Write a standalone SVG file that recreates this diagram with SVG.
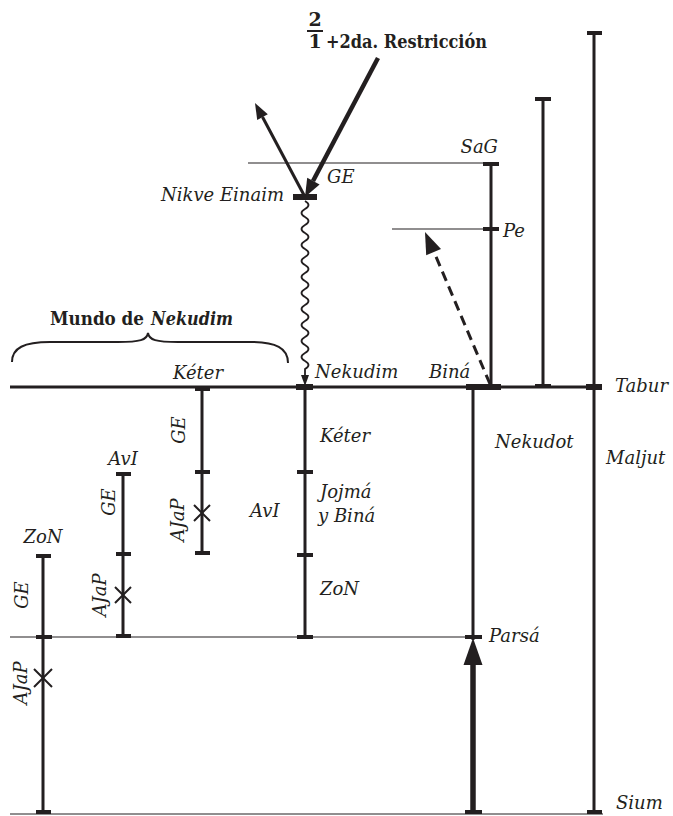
<svg xmlns="http://www.w3.org/2000/svg" width="673" height="816" viewBox="0 0 673 816">
<style>
.bg{fill:#fff}
.ln{stroke:#231f20;stroke-width:3;fill:none}
.thin{stroke:#231f20;stroke-width:1.2;fill:none}
.cap{stroke:#231f20;stroke-width:4;fill:none}
.capb{stroke:#231f20;stroke-width:6;fill:none}
.x{stroke:#231f20;stroke-width:2;fill:none}
.ah{fill:#231f20;stroke:none}
text{font-family:"DejaVu Serif","Liberation Serif",serif;fill:#231f20}
.it{font-style:italic;font-size:18px}
.bd{font-weight:bold;font-size:19px}
</style>
<rect class="bg" x="0" y="0" width="673" height="816"/>

<g id="connectors">
  <line class="ln" x1="10" y1="387" x2="602" y2="387"/>
  <line class="thin" x1="10" y1="637" x2="481" y2="637"/>
  <line class="thin" x1="10" y1="814" x2="603" y2="814"/>
  <line class="thin" x1="248" y1="163" x2="491" y2="163"/>
  <line class="thin" x1="392" y1="229" x2="491" y2="229"/>

  <line stroke="#231f20" stroke-width="4.5" x1="378" y1="58" x2="313" y2="181"/>
  <polygon class="ah" points="305,197 319.6,184.4 307.2,177.8"/>
  <line stroke="#231f20" stroke-width="3" x1="305" y1="197" x2="262.5" y2="117"/>
  <polygon class="ah" points="255,103 267.8,114.3 257.2,119.9"/>

  <path stroke="#231f20" stroke-width="1.8" fill="none" d="M305,201 q7,4 0,8 t0,8 t0,8 t0,8 t0,8 t0,8 t0,8 t0,8 t0,8 t0,8 t0,8 t0,8 t0,8 t0,8 t0,8 t0,8 t0,8 t0,8 t0,8 t0,8 t0,8 L305,378"/>
  <polygon class="ah" points="305,386 301,375 309,375"/>

  <line stroke="#231f20" stroke-width="3" stroke-dasharray="10,6" x1="490" y1="384" x2="434" y2="252"/>
  <polygon class="ah" points="425,232 441,249.1 426.2,255.3"/>

  <line stroke="#231f20" stroke-width="5.5" x1="473" y1="662" x2="473" y2="812"/>
  <polygon class="ah" points="473,638 463.5,665 482.5,665"/>
</g>

<g id="col-far-right">
  <line class="ln" x1="594" y1="31" x2="594" y2="812"/>
  <line class="cap" x1="587" y1="33" x2="602" y2="33"/>
  <line class="capb" x1="586" y1="387" x2="602" y2="387"/>
  <line class="cap" x1="587" y1="812" x2="602" y2="812"/>
</g>

<g id="col-543">
  <line class="ln" x1="543" y1="97" x2="543" y2="387"/>
  <line class="cap" x1="535" y1="99" x2="551" y2="99"/>
  <line class="cap" x1="535" y1="386" x2="551" y2="386"/>
</g>

<g id="col-sag">
  <line class="ln" x1="491" y1="163" x2="491" y2="387"/>
  <line class="cap" x1="483" y1="164" x2="499" y2="164"/>
  <line class="cap" x1="483" y1="229" x2="499" y2="229"/>
</g>

<g id="col-bina">
  <line class="ln" x1="473" y1="387" x2="473" y2="640"/>
  <line class="capb" x1="466" y1="387" x2="501" y2="387"/>
  <line class="cap" x1="465" y1="637" x2="482" y2="637"/>
  <line class="cap" x1="465" y1="812" x2="482" y2="812"/>
</g>

<g id="col-nekudim">
  <line class="ln" x1="305" y1="387" x2="305" y2="637"/>
  <line class="capb" x1="296" y1="387" x2="313" y2="387"/>
  <line class="cap" x1="297" y1="472" x2="313" y2="472"/>
  <line class="cap" x1="297" y1="555" x2="313" y2="555"/>
  <line class="cap" x1="297" y1="637" x2="313" y2="637"/>
  <line class="capb" x1="293" y1="197" x2="317" y2="197"/>
</g>

<g id="col-keter">
  <line class="ln" x1="202" y1="387" x2="202" y2="554"/>
  <line class="cap" x1="195" y1="389" x2="210" y2="389"/>
  <line class="cap" x1="195" y1="472" x2="210" y2="472"/>
  <line class="cap" x1="195" y1="553" x2="210" y2="553"/>
  <path class="x" d="M194,505 L210,521 M210,505 L194,521"/>
</g>

<g id="col-avi">
  <line class="ln" x1="123" y1="473" x2="123" y2="637"/>
  <line class="cap" x1="116" y1="474" x2="131" y2="474"/>
  <line class="cap" x1="116" y1="554" x2="131" y2="554"/>
  <line class="cap" x1="116" y1="636" x2="131" y2="636"/>
  <path class="x" d="M115,587 L131,603 M131,587 L115,603"/>
</g>

<g id="col-zon">
  <line class="ln" x1="43" y1="555" x2="43" y2="812"/>
  <line class="cap" x1="36" y1="556" x2="51" y2="556"/>
  <line class="cap" x1="36" y1="637" x2="52" y2="637"/>
  <line class="cap" x1="36" y1="812" x2="51" y2="812"/>
  <path class="x" d="M34,669 L52,687 M52,669 L34,687"/>
</g>

<g id="brace">
  <path stroke="#231f20" stroke-width="2" fill="none" d="M12,362 C12,348 24,342 50,342 L118,342 C140,342 147,340 148,333 C149,340 156,342 178,342 L250,342 C276,342 288,348 288,363"/>
</g>

<g id="title">
  <text class="bd" x="315" y="26" text-anchor="middle">2</text>
  <line stroke="#231f20" stroke-width="2" x1="307" y1="31" x2="323" y2="31"/>
  <text class="bd" x="315" y="48" text-anchor="middle">1</text>
  <text class="bd" x="326" y="48" textLength="161" lengthAdjust="spacingAndGlyphs">+2da. Restricción</text>
</g>

<g id="labels">
  <text class="it" x="498" y="153" text-anchor="end">SaG</text>
  <text class="it" x="327" y="183">GE</text>
  <text class="it" x="284" y="201" text-anchor="end">Nikve Einaim</text>
  <text class="it" x="503" y="237">Pe</text>
  <text class="bd" x="50" y="325" textLength="94" lengthAdjust="spacingAndGlyphs">Mundo de</text>
  <text class="bd" x="151" y="325" font-style="italic" textLength="82" lengthAdjust="spacingAndGlyphs">Nekudim</text>
  <text class="it" x="198" y="379" text-anchor="middle">Kéter</text>
  <text class="it" x="315" y="378">Nekudim</text>
  <text class="it" x="429" y="378">Biná</text>
  <text class="it" x="615" y="392">Tabur</text>
  <text class="it" x="320" y="442">Kéter</text>
  <text class="it" x="495" y="448">Nekudot</text>
  <text class="it" x="606" y="464">Maljut</text>
  <text class="it" x="320" y="498">Jojmá</text>
  <text class="it" x="318" y="522">y Biná</text>
  <text class="it" x="250" y="517">AvI</text>
  <text class="it" x="320" y="595">ZoN</text>
  <text class="it" x="123" y="465" text-anchor="middle">AvI</text>
  <text class="it" x="43" y="543" text-anchor="middle">ZoN</text>
  <text class="it" x="489" y="642">Parsá</text>
  <text class="it" x="616" y="809">Sium</text>
  <text class="it" text-anchor="middle" transform="translate(185,430) rotate(-90)">GE</text>
  <text class="it" text-anchor="middle" transform="translate(184,520) rotate(-90)">AJaP</text>
  <text class="it" text-anchor="middle" transform="translate(115,502) rotate(-90)">GE</text>
  <text class="it" text-anchor="middle" transform="translate(106,595) rotate(-90)">AJaP</text>
  <text class="it" text-anchor="middle" transform="translate(28,595) rotate(-90)">GE</text>
  <text class="it" text-anchor="middle" transform="translate(27,683) rotate(-90)">AJaP</text>
</g>
</svg>
